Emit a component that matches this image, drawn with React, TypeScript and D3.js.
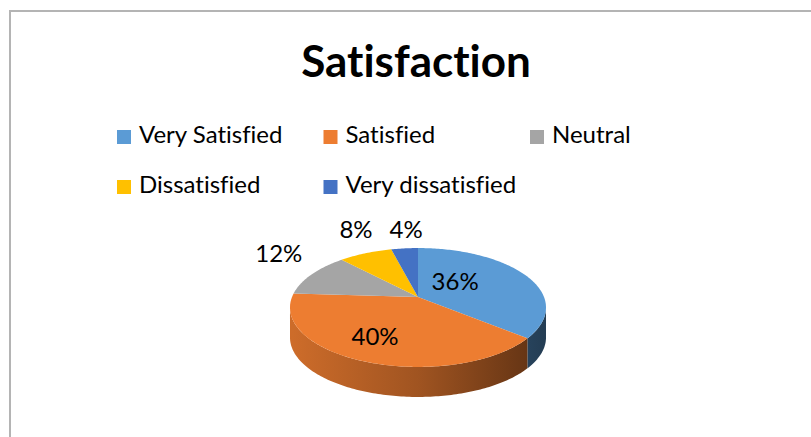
import React, { useEffect, useRef } from "react";
import * as d3 from "d3";

// chart data
const categories = [
  "Very Satisfied",
  "Satisfied",
  "Neutral",
  "Dissatisfied",
  "Very dissatisfied",
];
const values = [36, 40, 12, 8, 4];
const colors = ["#5B9BD5", "#ED7D31", "#A5A5A5", "#FFC000", "#4472C4"];
const title = "Satisfaction";

// label placement around the pie: [radius factor, angle shift in degrees]
const labelPlacement = [
  [0.425, -18],
  [0.68, 5],
  [1.54, 9],
  [1.6, 6],
  [1.48, 2.6],
];

const width = 811;
const height = 437;
const font = "Lato, 'Open Sans', sans-serif";

const App = () => {
  const svgRef = useRef(null);

  useEffect(() => {
    const svg = d3.select(svgRef.current);
    svg.selectAll("*").remove();
    svg
      .attr("width", width)
      .attr("height", height)
      .style("font-variant-ligatures", "none");

    // chart frame
    svg
      .append("rect")
      .attr("x", 10)
      .attr("y", 11)
      .attr("width", 840)
      .attr("height", 460)
      .attr("fill", "#fff")
      .attr("stroke", "#B4B4B4")
      .attr("stroke-width", 2);

    svg
      .append("text")
      .attr("x", 416)
      .attr("y", 77)
      .attr("text-anchor", "middle")
      .attr("font-family", font)
      .attr("font-weight", "bold")
      .attr("font-size", 44)
      .attr("fill", "#000")
      .text(title);

    // legend
    const colX = d3.scaleLinear().domain([0, 1]).range([117, 323.5]);
    const rowY = d3.scaleLinear().domain([0, 1]).range([130, 180]);
    const legend = svg
      .selectAll(".legend")
      .data(categories)
      .enter()
      .append("g")
      .attr(
        "transform",
        (d, i) => `translate(${colX(i < 3 ? i : i - 3)},${rowY(i < 3 ? 0 : 1)})`
      );
    legend
      .append("rect")
      .attr("width", 14)
      .attr("height", 14)
      .attr("fill", (d, i) => colors[i]);
    legend
      .append("text")
      .attr("x", 22)
      .attr("y", 13)
      .attr("font-family", font)
      .attr("font-size", 24)
      .attr("fill", "#000")
      .text((d) => d);

    // 3d pie with a little perspective
    const cx = 418;
    const cy = 297;
    const rx = 126;
    const ry = 57.6;
    const k = 0.1765;
    const depth = 30;

    const proj = (theta, r = 1, dz = 0) => {
      const u = r * Math.sin(theta);
      const v = -r * Math.cos(theta);
      const w = 1 - k * v;
      return [cx + (rx * u) / w, cy + (ry * v) / w + dz];
    };

    const arcPoints = (a0, a1, dz = 0) => {
      const n = Math.max(2, Math.ceil(((a1 - a0) * 180) / Math.PI));
      return d3.range(n + 1).map((j) => proj(a0 + ((a1 - a0) * j) / n, 1, dz));
    };

    const arcs = d3
      .pie()
      .sort(null)
      .value((d) => d)(values);

    const defs = svg.append("defs");
    arcs.forEach((a, i) => {
      const base = d3.color(colors[i]);
      const g = defs
        .append("linearGradient")
        .attr("id", `side${i}`)
        .attr("gradientUnits", "userSpaceOnUse")
        .attr("x1", cx - rx)
        .attr("x2", cx + rx)
        .attr("y1", 0)
        .attr("y2", 0);
      [
        [0, 0.4],
        [0.5, 1.1],
        [1, 2.6],
      ].forEach(([o, dk]) => {
        g.append("stop")
          .attr("offset", o)
          .attr("stop-color", base.darker(dk).formatHex());
      });
    });

    // visible front wall spans where the rim faces the viewer
    const frontStart = Math.acos(-k);
    const frontEnd = 2 * Math.PI - frontStart;
    const line = d3.line();

    arcs.forEach((a, i) => {
      const s = Math.max(a.startAngle, frontStart);
      const e = Math.min(a.endAngle, frontEnd);
      if (e <= s) return;
      const pts = arcPoints(s, e).concat(arcPoints(s, e, depth).reverse());
      svg
        .append("path")
        .attr("d", line(pts) + "Z")
        .attr("fill", `url(#side${i})`);
    });

    arcs.forEach((a, i) => {
      const pts = [[cx, cy]].concat(arcPoints(a.startAngle, a.endAngle));
      svg
        .append("path")
        .attr("d", line(pts) + "Z")
        .attr("fill", colors[i]);
    });

    // data labels
    svg
      .selectAll(".label")
      .data(arcs)
      .enter()
      .append("text")
      .attr("text-anchor", "middle")
      .attr("dy", "0.36em")
      .attr("font-family", font)
      .attr("font-size", 24)
      .attr("fill", "#000")
      .each(function (a, i) {
        const [r, shift] = labelPlacement[i];
        const mid = (a.startAngle + a.endAngle) / 2 + (shift * Math.PI) / 180;
        const [x, y] = proj(mid, r);
        d3.select(this).attr("x", x).attr("y", y);
      })
      .text((a) => `${a.data}%`);
  }, []);

  return (
    <svg
      ref={svgRef}
      style={{ position: "absolute", left: 0, top: 0, display: "block" }}
    ></svg>
  );
};

export default App;
